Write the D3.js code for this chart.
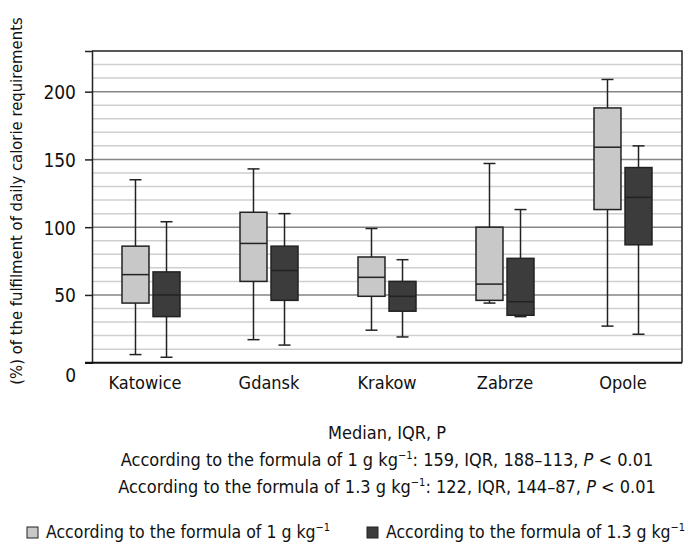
<!DOCTYPE html>
<html>
<head>
<meta charset="utf-8">
<script src="https://cdnjs.cloudflare.com/ajax/libs/d3/7.8.5/d3.min.js"></script>
<style>
  body { margin: 0; background: #fff; }
  svg text { font-family: "Liberation Sans Narrow", "DejaVu Sans Condensed", "Roboto Condensed", sans-serif; fill: #111; }
</style>
</head>
<body>
<script>
"use strict";
// categories and series
const cities = ["Katowice", "Gdansk", "Krakow", "Zabrze", "Opole"]
const series = ["1 g", "1.3 g"]

// box values, one per city
const lowWhisker1 = [6, 17, 24, 44, 27]
const q1Values1 = [44, 60, 49, 46, 113]
const median1 = [65, 88, 63, 58, 159]
const q3Values1 = [86, 111, 78, 100, 188]
const highWhisker1 = [135, 143, 99, 147, 209]

const lowWhisker2 = [4, 13, 19, 34, 21]
const q1Values2 = [34, 46, 38, 35, 87]
const median2 = [50, 68, 49, 45, 122]
const q3Values2 = [67, 86, 60, 77, 144]
const highWhisker2 = [104, 110, 76, 113, 160]

const yTicks = [0, 50, 100, 150, 200]
const minorTicks = [10, 20, 30, 40, 60, 70, 80, 90, 110, 120, 130, 140, 160, 170, 180, 190, 210, 220]

const noteLines = [
  "Median, IQR, P",
  ["According to the formula of 1 g kg", "\u22121", ": 159, IQR, 188\u2013113, ", "P", " < 0.01"],
  ["According to the formula of 1.3 g kg", "\u22121", ": 122, IQR, 144\u201387, ", "P", " < 0.01"]
]

;(function(){
    const measurements = {
        width: 688,
        height: 542,
        left: 92,
        right: 682,
        top: 51,
        bottom: 362.7
    }
    const fills = { "1 g": "#c8c8c8", "1.3 g": "#3c3c3c" }

    let rows = []
    cities.forEach((c, i) => {
        rows.push({ city: c, s: "1 g", lo: lowWhisker1[i], q1: q1Values1[i], med: median1[i], q3: q3Values1[i], hi: highWhisker1[i] })
        rows.push({ city: c, s: "1.3 g", lo: lowWhisker2[i], q1: q1Values2[i], med: median2[i], q3: q3Values2[i], hi: highWhisker2[i] })
    })

    let svg = d3.select("body").append("svg")
        .attr("width", measurements.width)
        .attr("height", measurements.height)

    let scaleX = d3.scaleBand()
        .domain(cities)
        .range([measurements.left, measurements.right])
    let scaleSub = d3.scaleBand()
        .domain(series)
        .range([-29, 29])
        .paddingInner(0.13)
    let scaleY = d3.scaleLinear()
        .domain([0, 230])
        .range([measurements.bottom, measurements.top])

    // grid lines
    svg.append("g").selectAll("line")
        .data(minorTicks).enter().append("line")
        .attr("x1", measurements.left).attr("x2", measurements.right)
        .attr("y1", d => scaleY(d)).attr("y2", d => scaleY(d))
        .attr("stroke", "#cfcfcf").attr("stroke-width", 1.5)
    svg.append("g").selectAll("line")
        .data(yTicks.filter(d => d > 0)).enter().append("line")
        .attr("x1", measurements.left).attr("x2", measurements.right)
        .attr("y1", d => scaleY(d)).attr("y2", d => scaleY(d))
        .attr("stroke", "#858585").attr("stroke-width", 1.5)

    // frame top and right
    svg.append("path")
        .attr("d", `M${measurements.left},${measurements.top}H${measurements.right}V${measurements.bottom}`)
        .attr("fill", "none").attr("stroke", "#222").attr("stroke-width", 1.5)

    // y axis
    let yAxis = d3.axisLeft(scaleY).tickValues(yTicks).tickSize(7).tickPadding(9)
    let gy = svg.append("g")
        .attr("transform", `translate(${measurements.left},0)`)
        .call(yAxis)
    gy.select(".domain").attr("stroke", "#222").attr("stroke-width", 1.5)
    gy.selectAll(".tick line").attr("stroke", "#222").attr("stroke-width", 1.5)
    gy.selectAll(".tick text")
        .style("font-size", "19px")
        .attr("dy", d => d === 0 ? "1.0em" : "0.36em")

    // x axis (no ticks)
    let xAxis = d3.axisBottom(scaleX).tickSize(0).tickPadding(14)
    let gx = svg.append("g")
        .attr("transform", `translate(0,${measurements.bottom})`)
        .call(xAxis)
    gx.select(".domain").attr("d", `M${measurements.left - 7},0H${measurements.right}`)
        .attr("stroke", "#111").attr("stroke-width", 2)
    gx.selectAll(".tick text")
        .style("font-size", "18px")
        .attr("dx", d => d === "Katowice" ? -6 : 0)

    // boxes
    let boxes = svg.append("g").selectAll("g")
        .data(rows).enter().append("g")
        .attr("transform", d => `translate(${scaleX(d.city) + scaleX.bandwidth() / 2 + scaleSub(d.s)},0)`)
    const bw = scaleSub.bandwidth()
    boxes.append("line")
        .attr("x1", bw / 2).attr("x2", bw / 2)
        .attr("y1", d => scaleY(d.lo)).attr("y2", d => scaleY(d.hi))
        .attr("stroke", "#222").attr("stroke-width", 1.5)
    boxes.append("line")
        .attr("x1", bw / 2 - 6).attr("x2", bw / 2 + 6)
        .attr("y1", d => scaleY(d.lo)).attr("y2", d => scaleY(d.lo))
        .attr("stroke", "#222").attr("stroke-width", 1.5)
    boxes.append("line")
        .attr("x1", bw / 2 - 6).attr("x2", bw / 2 + 6)
        .attr("y1", d => scaleY(d.hi)).attr("y2", d => scaleY(d.hi))
        .attr("stroke", "#222").attr("stroke-width", 1.5)
    boxes.append("rect")
        .attr("x", 0).attr("width", bw)
        .attr("y", d => scaleY(d.q3))
        .attr("height", d => scaleY(d.q1) - scaleY(d.q3))
        .attr("fill", d => fills[d.s])
        .attr("stroke", "#222").attr("stroke-width", 1.5)
    boxes.append("line")
        .attr("x1", 0).attr("x2", bw)
        .attr("y1", d => scaleY(d.med)).attr("y2", d => scaleY(d.med))
        .attr("stroke", "#222").attr("stroke-width", 1.5)

    // y title
    svg.append("text")
        .attr("transform", "translate(22,201) rotate(-90)")
        .attr("text-anchor", "middle")
        .style("font-size", "16.5px")
        .text("(%) of the fulfilment of daily calorie requirements")

    // notes below the chart
    const cx = (measurements.left + measurements.right) / 2
    noteLines.forEach((line, i) => {
        let t = svg.append("text")
            .attr("x", cx)
            .attr("y", 439 + i * 27)
            .attr("text-anchor", "middle")
            .style("font-size", "18px")
        if (typeof line === "string") {
            t.text(line)
        } else {
            t.append("tspan").text(line[0])
            t.append("tspan").attr("dy", -7).style("font-size", "11px").text(line[1])
            t.append("tspan").attr("dy", 7).text(line[2])
            t.append("tspan").style("font-style", "italic").text(line[3])
            t.append("tspan").text(line[4])
        }
    })

    // legend
    const legendX = [27, 367]
    series.forEach((s, i) => {
        let g = svg.append("g").attr("transform", `translate(${legendX[i]},527)`)
        g.append("rect")
            .attr("width", 11).attr("height", 11)
            .attr("fill", fills[s]).attr("stroke", "#222").attr("stroke-width", 1)
        let t = g.append("text").attr("x", 19).attr("y", 10.5).style("font-size", "17.5px")
        t.append("tspan").text(`According to the formula of ${s} kg`)
        t.append("tspan").attr("dy", -7).style("font-size", "11px").text("\u22121")
    })
})()
</script>
</body>
</html>
